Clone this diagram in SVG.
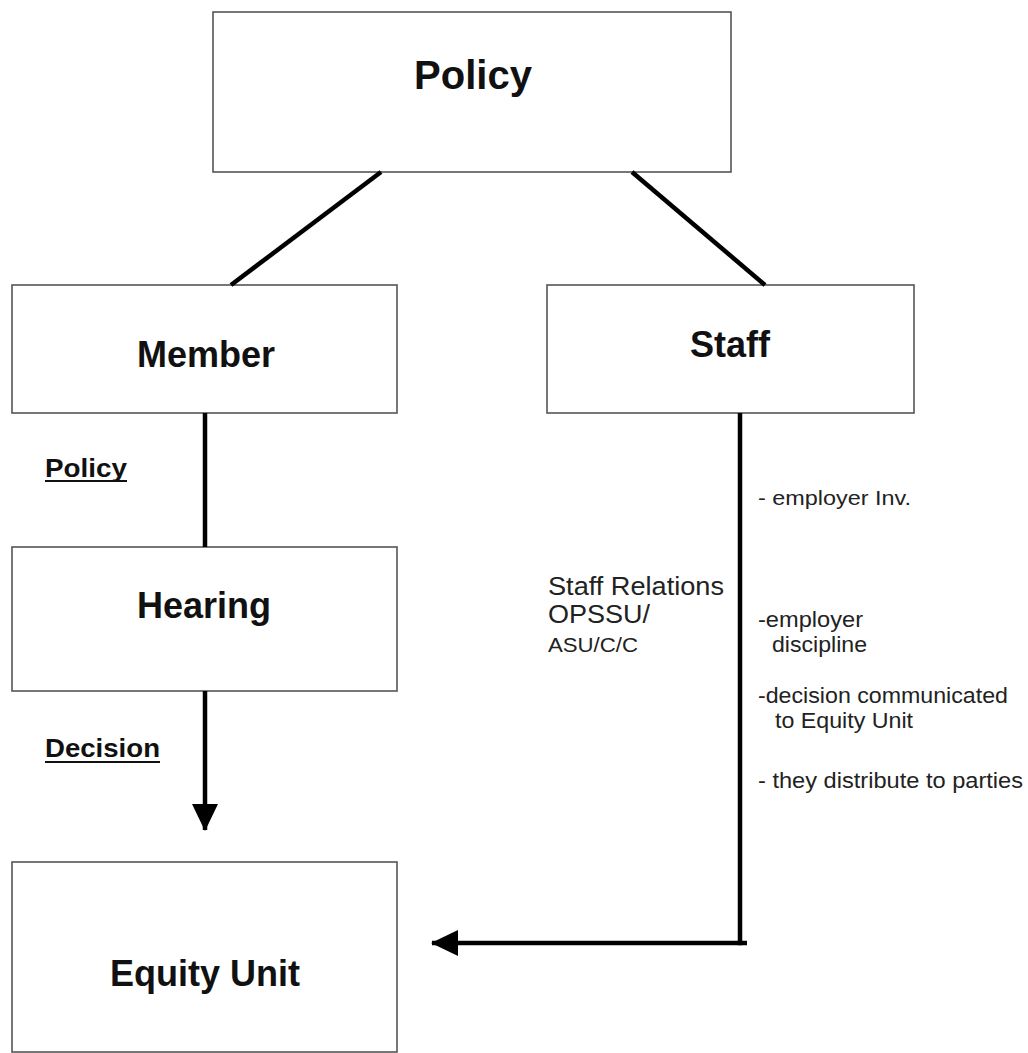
<svg xmlns="http://www.w3.org/2000/svg" width="1028" height="1053" viewBox="0 0 1028 1053">
<style>
.box{fill:#fff;stroke:#555;stroke-width:1.6}
.title{font-family:"Liberation Sans",Arial,sans-serif;font-weight:bold;fill:#111;text-anchor:middle}
.lbl{font-family:"Liberation Sans",Arial,sans-serif;font-weight:bold;fill:#111;font-size:26px}
.note{font-family:"Liberation Sans",Arial,sans-serif;fill:#222}
.conn{stroke:#000;stroke-width:4.5;fill:none}
</style>
<defs>
<marker id="arr" markerUnits="userSpaceOnUse" markerWidth="28" markerHeight="26" refX="26" refY="13" orient="auto">
<path d="M0,0 L27,13 L0,26 Z" fill="#000"/>
</marker>
</defs>
<rect width="1028" height="1053" fill="#fff"/>
<g id="node-policy">
<rect class="box" x="213" y="12" width="518" height="160"/>
<text class="title" x="473" y="89" font-size="40">Policy</text>
</g>
<g id="node-member">
<rect class="box" x="12" y="285" width="385" height="128"/>
<text class="title" x="206" y="367" font-size="36">Member</text>
</g>
<g id="node-staff">
<rect class="box" x="547" y="285" width="367" height="128"/>
<text class="title" x="730" y="357" font-size="36">Staff</text>
</g>
<g id="node-hearing">
<rect class="box" x="12" y="547" width="385" height="144"/>
<text class="title" x="204" y="618" font-size="36">Hearing</text>
</g>
<g id="node-equity">
<rect class="box" x="12" y="862" width="385" height="190"/>
<text class="title" x="205" y="986" font-size="36">Equity Unit</text>
</g>
<g id="connectors">
<line class="conn" x1="381" y1="172" x2="231" y2="285"/>
<line class="conn" x1="632" y1="172" x2="765" y2="285"/>
<line class="conn" x1="205" y1="413" x2="205" y2="547"/>
<line class="conn" x1="205" y1="691" x2="205" y2="830" marker-end="url(#arr)"/>
<polyline class="conn" points="740,413 740,943 747,943"/>
<line class="conn" x1="742" y1="943" x2="432" y2="943" marker-end="url(#arr)"/>
</g>
<g id="labels">
<text class="lbl" x="45" y="477" textLength="82" lengthAdjust="spacingAndGlyphs">Policy</text>
<line x1="45" y1="481" x2="127" y2="481" stroke="#111" stroke-width="2"/>
<text class="lbl" x="45" y="757" textLength="115" lengthAdjust="spacingAndGlyphs">Decision</text>
<line x1="45" y1="762" x2="160" y2="762" stroke="#111" stroke-width="2"/>
<text class="note" x="548" y="595" font-size="26" textLength="176" lengthAdjust="spacingAndGlyphs">Staff Relations</text>
<text class="note" x="548" y="623" font-size="26" textLength="102" lengthAdjust="spacingAndGlyphs">OPSSU/</text>
<text class="note" x="548" y="652" font-size="21" textLength="90" lengthAdjust="spacingAndGlyphs">ASU/C/C</text>
<text class="note" x="758" y="505" font-size="21" textLength="153" lengthAdjust="spacingAndGlyphs">- employer Inv.</text>
<text class="note" x="758" y="627" font-size="22" textLength="105" lengthAdjust="spacingAndGlyphs">-employer</text>
<text class="note" x="772" y="652" font-size="22" textLength="95" lengthAdjust="spacingAndGlyphs">discipline</text>
<text class="note" x="758" y="703" font-size="22" textLength="250" lengthAdjust="spacingAndGlyphs">-decision communicated</text>
<text class="note" x="775" y="728" font-size="22" textLength="138" lengthAdjust="spacingAndGlyphs">to Equity Unit</text>
<text class="note" x="758" y="788" font-size="22" textLength="265" lengthAdjust="spacingAndGlyphs">- they distribute to parties</text>
</g>
</svg>
